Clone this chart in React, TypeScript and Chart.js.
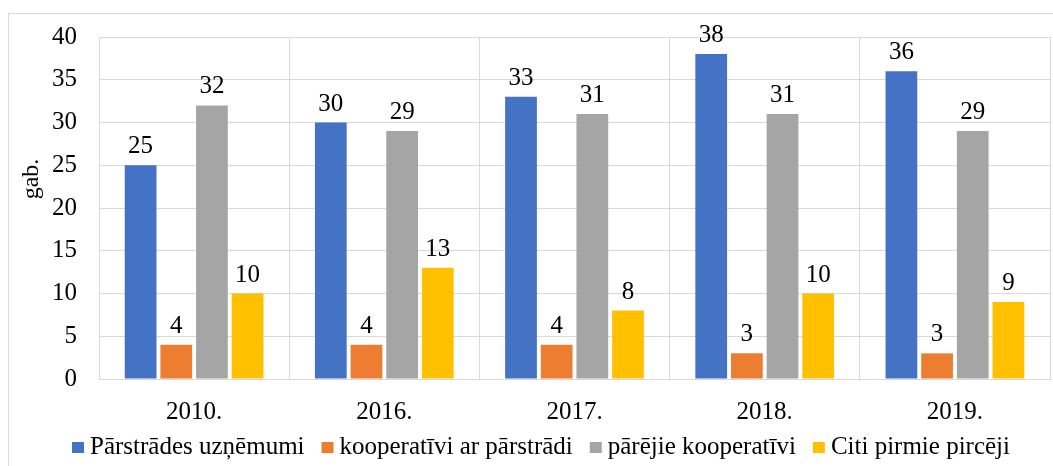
import React, { useEffect, useRef } from "react";
import { Chart, registerables } from "chart.js";

Chart.register(...registerables);

const categories = ["2010.", "2016.", "2017.", "2018.", "2019."];
const parstradesUznemumi = [25, 30, 33, 38, 36];
const kooperativiArParstradi = [4, 4, 4, 3, 3];
const parejieKooperativi = [32, 29, 31, 31, 29];
const citiPirmiePirceji = [10, 13, 8, 10, 9];
const seriesNames = [
  "Pārstrādes uzņēmumi",
  "kooperatīvi ar pārstrādi",
  "pārējie kooperatīvi",
  "Citi pirmie pircēji",
];
const seriesColors = ["#4472C4", "#ED7D31", "#A5A5A5", "#FFC000"];
const yMin = 0;
const yMax = 40;
const yStep = 5;
const yAxisTitle = "gab.";

const FONT = "'Liberation Serif', 'DejaVu Serif', serif";
const GRID = "#d9d9d9";

Chart.defaults.font.family = FONT;
Chart.defaults.font.size = 25;
Chart.defaults.color = "#000000";

const outerBorder = {
  id: "outerBorder",
  beforeDraw(chart: any) {
    const ctx = chart.ctx;
    ctx.save();
    ctx.fillStyle = "#ffffff";
    ctx.fillRect(0, 0, chart.width, chart.height);
    ctx.strokeStyle = GRID;
    ctx.lineWidth = 1;
    ctx.strokeRect(8.5, 13.5, 2000, 2000);
    ctx.restore();
  },
};

const valueLabels = {
  id: "valueLabels",
  afterDatasetsDraw(chart: any) {
    const ctx = chart.ctx;
    ctx.save();
    ctx.font = `25px ${FONT}`;
    ctx.fillStyle = "#000000";
    ctx.textAlign = "center";
    ctx.textBaseline = "alphabetic";
    chart.data.datasets.forEach((ds: any, i: number) => {
      const meta = chart.getDatasetMeta(i);
      meta.data.forEach((el: any, j: number) => {
        ctx.fillText(String(ds.data[j]), el.x, el.y - 12);
      });
    });
    ctx.restore();
  },
};

const yTitle = {
  id: "yTitle",
  afterDraw(chart: any) {
    const ctx = chart.ctx;
    ctx.save();
    ctx.font = `24px ${FONT}`;
    ctx.fillStyle = "#000000";
    ctx.textAlign = "center";
    ctx.textBaseline = "alphabetic";
    ctx.translate(38, 179);
    ctx.rotate(-Math.PI / 2);
    ctx.fillText(yAxisTitle, 0, 0);
    ctx.restore();
  },
};

const bottomLegend = {
  id: "bottomLegend",
  afterDraw(chart: any) {
    const ctx = chart.ctx;
    ctx.save();
    ctx.font = `25px ${FONT}`;
    ctx.fillStyle = "#000000";
    ctx.textAlign = "left";
    ctx.textBaseline = "middle";
    const box = 12;
    const boxGap = 6;
    const itemGap = 17;
    const items = chart.data.datasets.map((ds: any) => ({
      text: ds.label,
      color: ds.backgroundColor,
      w: ctx.measureText(ds.label).width,
    }));
    const total =
      items.reduce((s: number, it: any) => s + box + boxGap + it.w, 0) + itemGap * (items.length - 1);
    const centerX = 541;
    const y = 447;
    let x = centerX - total / 2;
    items.forEach((it: any) => {
      ctx.fillStyle = it.color;
      ctx.fillRect(x, y - 5, box, box - 1);
      x += box + boxGap;
      ctx.fillStyle = "#000000";
      ctx.fillText(it.text, x, y);
      x += it.w + itemGap;
    });
    ctx.restore();
  },
};

export default function App() {
  const ref = useRef<HTMLCanvasElement | null>(null);

  useEffect(() => {
    if (!ref.current) return;
    const series = [parstradesUznemumi, kooperativiArParstradi, parejieKooperativi, citiPirmiePirceji];
    const chart = new Chart(ref.current, {
      type: "bar",
      data: {
        labels: categories,
        datasets: series.map((d, i) => ({
          label: seriesNames[i],
          data: d,
          backgroundColor: seriesColors[i],
          borderWidth: 0,
          categoryPercentage: 0.75,
          barPercentage: 0.89,
        })),
      },
      options: {
        responsive: false,
        animation: false,
        devicePixelRatio: 1,
        layout: { padding: { left: 30, right: 3, top: 35, bottom: 37 } },
        plugins: {
          legend: { display: false },
          tooltip: { enabled: false },
        },
        scales: {
          x: {
            grid: { color: GRID, offset: true, drawTicks: false },
            border: { color: GRID },
            ticks: { padding: 18, color: "#000000", font: { family: FONT, size: 25 } },
            afterFit: (s: any) => {
              s.height = 50;
            },
          },
          y: {
            min: yMin,
            max: yMax,
            grid: { color: GRID, drawTicks: false },
            border: { color: GRID },
            ticks: { stepSize: yStep, padding: 22, color: "#000000", font: { family: FONT, size: 25 } },
            afterFit: (s: any) => {
              s.width = 69;
            },
          },
        },
      },
      plugins: [outerBorder, valueLabels, yTitle, bottomLegend],
    });
    return () => chart.destroy();
  }, []);

  return (
    <div style={{ position: "absolute", left: 0, top: 0, width: 1053, height: 466, overflow: "hidden", background: "#fff" }}>
      <canvas ref={ref} width={1053} height={466} style={{ display: "block" }} />
    </div>
  );
}
